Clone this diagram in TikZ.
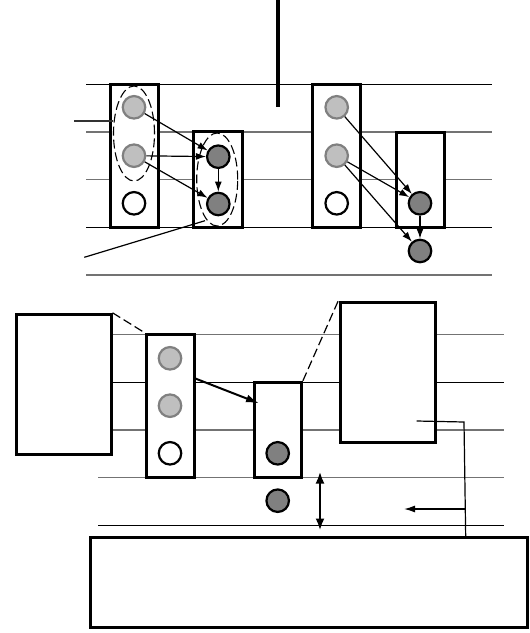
\documentclass[tikz,border=0pt]{standalone}
\usetikzlibrary{arrows.meta,shapes.geometric}
\begin{document}
\begin{tikzpicture}[x=1pt,y=-1pt,
 frame/.style={draw,line width=3pt,fill=white,inner sep=0pt},
 lgc/.style={circle,fill=black!25,draw=black!50,line width=2.2pt,minimum size=22.5pt,inner sep=0pt},
 wc/.style={circle,fill=white,draw=black,line width=2.2pt,minimum size=22.5pt,inner sep=0pt},
 dc/.style={circle,fill=black!50,draw=black,line width=2.2pt,minimum size=22.5pt,inner sep=0pt},
 arr/.style={-{Latex[length=10pt,width=7pt]},line width=1.2pt},
 bigarr/.style={-{Latex[length=13pt,width=8pt]},line width=2pt},
 blk/.style={line width=1.1pt,black},
 gry/.style={line width=1.1pt,black!55},
 dshell/.style={ellipse,draw,dash pattern=on 9pt off 4pt,line width=1.1pt,inner sep=0pt},
 dshln/.style={dash pattern=on 9pt off 4pt,line width=1.2pt},
 thin/.style={line width=1.2pt}]
\useasboundingbox (0,0) rectangle (530,633);
% top horizontal lines
\draw[blk] (86,84.3) -- (492,84.3);
\draw[gry] (86,132) -- (492,132);
\draw[gry] (86,179.7) -- (492,179.7);
\draw[blk] (86,227.3) -- (492,227.3);
\draw[gry] (86,275) -- (492,275);
% vertical thick bar
\draw[line width=3.8pt] (277.7,0) -- (277.7,106.5);
% top left group
\node[frame,minimum width=48pt,minimum height=143.3pt] (A1) at (134,155.7) {};
\node[frame,minimum width=49pt,minimum height=95.6pt] (B1) at (217.8,179.5) {};
\node[lgc] (a11) at (134,107.3) {};
\node[lgc] (a12) at (134,155.7) {};
\node[wc] (a13) at (134,203.3) {};
\node[dc] (b11) at (218.3,156.7) {};
\node[dc] (b12) at (218.3,204) {};
\node[dshell,minimum width=41pt,minimum height=95pt] (e1) at (134,133.5) {};
\node[dshell,minimum width=41pt,minimum height=93pt] (e2) at (217.2,179.5) {};
\draw[arr] (a11) -- (b11);
\draw[arr] (a12) -- (b11);
\draw[arr] (a12) -- (b12);
\draw[arr] (b11) -- (b12);
\coordinate (p1) at (74,121);
\draw[black!80,line width=1.4pt] (p1) -- (e1.west |- p1);
\coordinate (p2) at (84.3,257.3);
\coordinate (p3) at (205,220.7);
\draw[thin] (p2) -- (p3);
% top right group
\node[frame,minimum width=48pt,minimum height=143.3pt] (A2) at (336.7,155.7) {};
\node[frame,minimum width=48pt,minimum height=95.3pt] (B2) at (420,179.7) {};
\node[lgc] (a21) at (336.7,107.3) {};
\node[lgc] (a22) at (336.7,155.7) {};
\node[wc] (a23) at (336.7,203.3) {};
\node[dc] (b21) at (420,203.3) {};
\node[dc] (b22) at (420,251) {};
\draw[arr] (a21) -- (b21);
\draw[arr] (a22) -- (b21);
\draw[arr] (a22) -- (b22);
\draw[arr] (b21) -- (b22);
% bottom horizontal lines
\draw[gry] (111.8,334.3) -- (504,334.3);
\draw[blk] (111.8,382.3) -- (504,382.3);
\draw[gry] (111.8,430) -- (504,430);
\draw[gry] (98.2,477.5) -- (504,477.5);
\draw[blk] (98.2,525.7) -- (504,525.7);
% bottom boxes
\node[frame,minimum width=94.7pt,minimum height=140pt] (L3) at (63.7,384.3) {};
\node[frame,minimum width=47.8pt,minimum height=143.4pt] (A3) at (170.2,406) {};
\node[frame,minimum width=47.4pt,minimum height=95.4pt] (B3) at (277.7,430) {};
\node[frame,minimum width=95pt,minimum height=140pt] (R3) at (388,372.3) {};
\node[frame,minimum width=436.7pt,minimum height=90pt] (BT) at (309.3,582.3) {};
\node[lgc] (a31) at (170,358.3) {};
\node[lgc] (a32) at (170,405.7) {};
\node[wc] (a33) at (170,453.3) {};
\node[dc] (b31) at (277.7,453.3) {};
\node[dc] (b32) at (277.7,500.7) {};
\draw[dshln] (L3.north east) -- (A3.north west);
\coordinate (q1) at (338.6,300);
\draw[dshln] (B3.north east) -- (q1);
\coordinate (q2) at (194.8,378.3);
\coordinate (q3) at (259,403.3);
\draw[bigarr] (q2) -- (q3);
\coordinate (v1) at (320,471.5);
\coordinate (v2) at (320,530.5);
\draw[{Latex[length=12pt,width=9pt]}-{Latex[length=12pt,width=9pt]},line width=2.8pt] (v1) -- (v2);
\coordinate (r1) at (416.7,421);
\coordinate (r2) at (464,422);
\coordinate (r3) at (465.7,537);
\draw[thin] (r1) -- (r2) -- (r3);
\coordinate (s1) at (464.6,509);
\coordinate (s2) at (404,509);
\draw[-{Latex[length=11pt,width=7pt]},line width=1.4pt] (s1) -- (s2);
\end{tikzpicture}
\end{document}
